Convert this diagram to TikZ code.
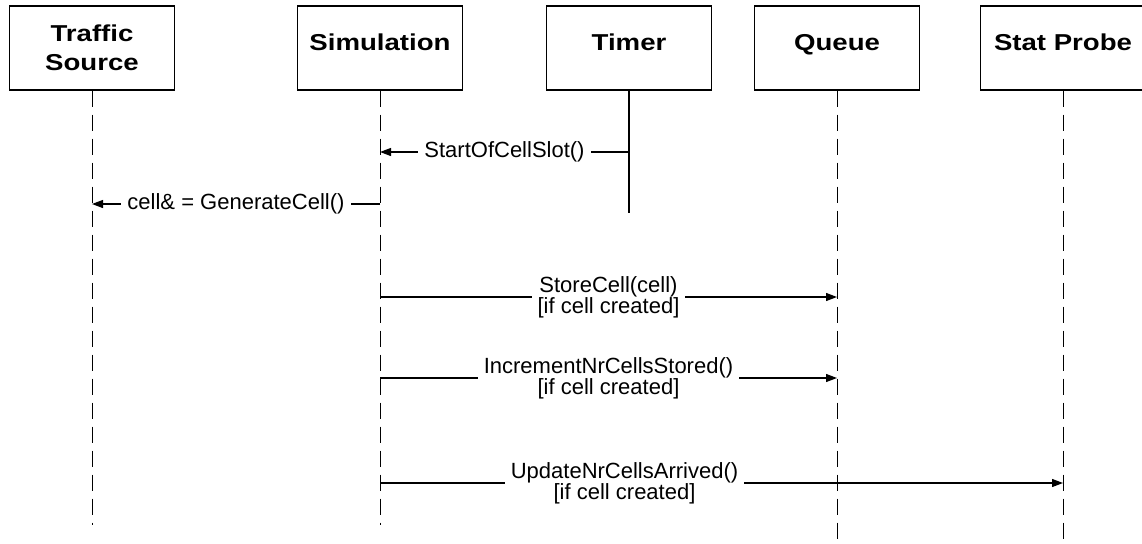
\documentclass[tikz,border=0pt]{standalone}
\usepackage{fontspec}
\setmainfont{Liberation Sans}
\newfontfamily\headfont[FakeStretch=1.2]{Liberation Sans Bold}
\usepackage{tikz}
\usetikzlibrary{arrows.meta}
\usetikzlibrary{calc}

\begin{document}
\begin{tikzpicture}[x=1pt, y=-1pt,
        head_style/.style={rectangle,draw=black,line width=1.2pt,minimum width=165pt,minimum height=84pt,inner sep=0pt,align=center,font=\headfont\fontsize{23}{29}\selectfont},
        single_style/.style={head_style,text depth=12pt},
        life_style/.style={draw=black,line width=1pt,dash pattern=on 16pt off 8pt},
        timer_style/.style={draw=black,line width=1.2pt},
        call_style/.style={draw=black,line width=1.2pt,-{Triangle[length=11pt,width=8pt]}},
        msg_style/.style={fill=white,inner xsep=6pt,inner ysep=1pt,align=center,font=\fontsize{22}{21}\selectfont}]

        \useasboundingbox (0,0) rectangle (1142,543);

        % objects
        \node [head_style](src) at (92,48) {Traffic\\Source};
        \node [single_style](sim) at (380,48) {Simulation};
        \node [single_style](timer) at (629,48) {Timer};
        \node [single_style](queue) at (837,48) {Queue};
        \node [single_style](probe) at (1063,48) {Stat Probe};

        % lifelines
        \coordinate (src_end) at (92,525);
        \coordinate (sim_end) at (380,525);
        \coordinate (timer_end) at (629,213);
        \coordinate (queue_end) at (837,545);
        \coordinate (probe_end) at (1063,545);
        \draw [life_style] (src) -- (src_end);
        \draw [life_style] (sim) -- (sim_end);
        \draw [timer_style] (timer) -- (timer_end);
        \draw [life_style] (queue) -- (queue_end);
        \draw [life_style] (probe) -- (probe_end);

        % messages
        \coordinate (timer_m1) at (629,152);
        \coordinate (sim_m1) at (380,152);
        \coordinate (sim_m2) at (380,204);
        \coordinate (src_m2) at (92,204);
        \coordinate (sim_m3) at (380,297);
        \coordinate (queue_m3) at (837,297);
        \coordinate (sim_m4) at (380,378);
        \coordinate (queue_m4) at (837,378);
        \coordinate (sim_m5) at (380,483);
        \coordinate (probe_m5) at (1063,483);
        \draw [call_style] (timer_m1) -- node[msg_style]{StartOfCellSlot()} (sim_m1);
        \draw [call_style] (sim_m2) -- node[msg_style]{cell\& = GenerateCell()} (src_m2);
        \draw [call_style] (sim_m3) -- node[msg_style]{StoreCell(cell)\\{[}if cell created]} (queue_m3);
        \draw [call_style] (sim_m4) -- node[msg_style]{IncrementNrCellsStored()\\{[}if cell created]} (queue_m4);
        \draw [call_style] (sim_m5) -- node[msg_style,pos=0.358]{UpdateNrCellsArrived()\\{[}if cell created]} (probe_m5);
\end{tikzpicture}
\end{document}
